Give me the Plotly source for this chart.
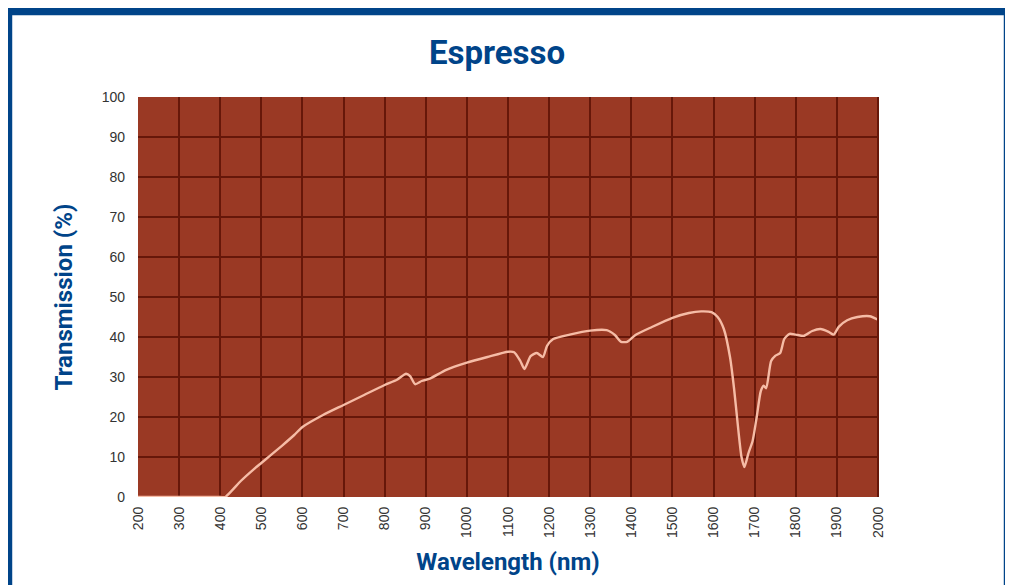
"""
Espresso - curva de transmissão espectral
"""
import plotly.graph_objects as go

# valores
wavelength = [200, 300, 400, 412, 430, 450, 480, 500, 520, 550, 580, 600, 650, 700,
              750, 800, 830, 852, 862, 874, 890, 910, 950, 1000, 1050, 1100, 1115,
              1130, 1140, 1155, 1170, 1185, 1195, 1210, 1250, 1300, 1340, 1360, 1375,
              1390, 1410, 1450, 1500, 1540, 1570, 1595, 1610, 1625, 1640, 1650, 1660,
              1668, 1675, 1685, 1695, 1705, 1715, 1722, 1728, 1740, 1750, 1762, 1772,
              1785, 1800, 1820, 1840, 1860, 1880, 1892, 1905, 1925, 1950, 1980, 2000]
transmission = [0, 0, 0, 0, 1.8, 4, 6.8, 8.5, 10.2, 12.8, 15.5, 17.5, 20.5, 23,
                25.5, 28, 29.3, 30.8, 30.2, 28.2, 29, 29.6, 31.8, 33.6, 35, 36.3, 36.2,
                34, 32, 35.2, 36, 35, 37.8, 39.5, 40.6, 41.6, 41.7, 40.5, 38.8,
                38.8, 40.5, 42.5, 44.8, 46, 46.4, 46.2, 45, 42, 35, 27, 17,
                10, 7.5, 11, 14, 20, 26.5, 27.8, 27.2, 34, 35.3, 36, 39.5,
                40.8, 40.6, 40.3, 41.5, 42, 41.3, 40.6, 42.6, 44.2, 45, 45.2, 44.3]

x_ticks = list(range(200, 2001, 100))
y_ticks = list(range(0, 101, 10))

AZUL = '#004489'
FUNDO = '#9A3924'
GRADE = '#661709'
LINHA = '#F6BCA6'
FONTE_TITULO = 'Roboto, Liberation Sans, sans-serif'
FONTE_TICKS = 'Liberation Sans, Arial, sans-serif'

fig = go.Figure()

fig.add_trace(go.Scatter(
    x=wavelength,
    y=transmission,
    mode='lines',
    line=dict(color=LINHA, width=2.4, shape='spline', smoothing=0.6),
    showlegend=False
))

# a página tem 8px de margem no body, por isso a figura fica 8px menor
fig.update_layout(
    width=1005,
    height=577,
    margin=dict(l=130, r=135, t=89, b=88),
    paper_bgcolor='white',
    plot_bgcolor=FUNDO,
    title=dict(
        text='<b>Espresso</b>',
        x=0.4866, xanchor='center',
        y=0.9237, yanchor='middle',
        font=dict(family=FONTE_TITULO, size=33, color=AZUL)
    ),
    xaxis=dict(
        range=[200, 2000],
        tickvals=x_ticks,
        tickangle=-90,
        showgrid=True,
        gridcolor=GRADE,
        gridwidth=2,
        zeroline=False,
        ticks='',
        ticklabelstandoff=6,
        tickfont=dict(family=FONTE_TICKS, size=14, color='#333333'),
        title=dict(text='<b>Wavelength (nm)</b>', standoff=16,
                   font=dict(family=FONTE_TITULO, size=24, color=AZUL)),
        fixedrange=True
    ),
    yaxis=dict(
        range=[0, 100],
        tickvals=y_ticks,
        showgrid=True,
        gridcolor=GRADE,
        gridwidth=2,
        zeroline=False,
        ticks='',
        ticklabelstandoff=12,
        tickfont=dict(family=FONTE_TICKS, size=14, color='#333333'),
        title=dict(text='<b>Transmission (%)</b>', standoff=22,
                   font=dict(family=FONTE_TITULO, size=24, color=AZUL)),
        fixedrange=True
    ),
    shapes=[
        # moldura azul em volta do gráfico
        dict(type='rect', xref='paper', yref='paper',
             x0=-0.1757, x1=1.1757, y0=-0.26, y1=1.215,
             line=dict(color=AZUL, width=8.5), fillcolor='rgba(0,0,0,0)', layer='below'),
        # borda direita do gráfico
        dict(type='line', xref='paper', yref='paper', x0=1, x1=1, y0=0, y1=1,
             line=dict(color=GRADE, width=2))
    ]
)

fig.write_html("out.html")
